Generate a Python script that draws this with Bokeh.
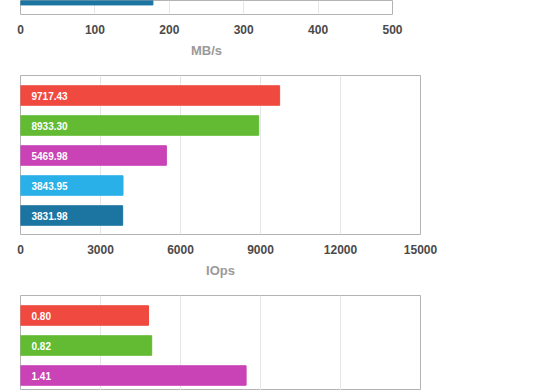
from bokeh.plotting import figure
from bokeh.layouts import column
from bokeh.models import Range1d, FixedTicker, ColumnDataSource
from bokeh.embed import file_html
from bokeh.resources import INLINE

# ---- data ----
bar_colors = ["#F04A40", "#62BB32", "#C942B6", "#2AB0E8", "#1C75A1"]

mbs_values = [178.0]            # only the last (dark blue) bar is visible
mbs_colors = [bar_colors[4]]
mbs_ticks = [0, 100, 200, 300, 400, 500]

iops_labels = ["9717.43", "8933.30", "5469.98", "3843.95", "3831.98"]
iops_values = [9717.43, 8933.30, 5469.98, 3843.95, 3831.98]
iops_ticks = [0, 3000, 6000, 9000, 12000, 15000]

lat_labels = ["0.80", "0.82", "1.41"]
lat_values = [0.80, 0.82, 1.41]
lat_ticks = [0, 0.5, 1.0, 1.5, 2.0, 2.5]

FONT = "Liberation Sans"
PX = 30.0  # pixels per category band


def make(values, colors, labels, ticks, title, left, fw, fh, bottom, top_slot, show_axis):
    n = len(values)
    ys = [top_slot - i for i in range(n)]
    y_end = 4 + 20.0 / PX
    if top_slot == 0:
        y_start = -19.3 / PX
        y_end = y_start + fh / PX
    else:
        y_start = y_end - fh / PX
    p = figure(frame_width=fw, frame_height=fh, output_backend="svg", toolbar_location=None,
               x_range=Range1d(ticks[0], ticks[-1]), y_range=Range1d(y_start, y_end),
               min_border_left=left, min_border_right=556 - left - fw, min_border_top=0,
               min_border_bottom=bottom)
    p.background_fill_color = "white"
    p.border_fill_color = "white"
    p.outline_line_color = "#B3B3B3"
    p.outline_line_width = 1
    src = ColumnDataSource(dict(y=ys, right=values, left=[ticks[0]] * n, color=colors,
                                label=labels if labels else [""] * n))
    p.hbar(y="y", left="left", right="right", height=0.65, color="color", source=src)
    if labels:
        p.text(x="left", y="y", text="label", source=src, x_offset=11, text_baseline="middle",
               text_align="left", text_color="white", text_font_size="10px",
               text_font_style="bold", text_font={"value": FONT})
    p.yaxis.visible = False
    p.ygrid.visible = False
    p.xgrid.ticker = FixedTicker(ticks=ticks)
    p.xgrid.grid_line_color = "#E6E6E6"
    p.xaxis.ticker = FixedTicker(ticks=ticks)
    p.xaxis.axis_line_color = None
    p.xaxis.major_tick_line_color = None
    p.xaxis.minor_tick_line_color = None
    p.xaxis.major_tick_out = 0
    p.xaxis.major_tick_in = 0
    p.xaxis.major_label_standoff = 10
    p.xaxis.major_label_text_font = FONT
    p.xaxis.major_label_text_font_size = "12px"
    p.xaxis.major_label_text_font_style = "bold"
    p.xaxis.major_label_text_color = "#4A4A4A"
    p.xaxis.axis_label = title
    p.xaxis.axis_label_standoff = 6
    p.xaxis.axis_label_text_font = FONT
    p.xaxis.axis_label_text_font_size = "13px"
    p.xaxis.axis_label_text_font_style = "bold"
    p.xaxis.axis_label_text_color = "#9A9A9A"
    p.xaxis.visible = show_axis
    return p


f1 = make(mbs_values, mbs_colors, None, mbs_ticks, "MB/s", 19, 372, 14, 61, 0, True)
f2 = make(iops_values, bar_colors, iops_labels, iops_ticks, "IOps", 20, 400, 159, 61, 4, True)
f3 = make(lat_values, bar_colors[:3], lat_labels, lat_ticks, "", 20, 400, 95, 0, 4, False)

layout = column(f1, f2, f3, spacing=0)

open("out.html", "w").write(file_html(layout, INLINE))
